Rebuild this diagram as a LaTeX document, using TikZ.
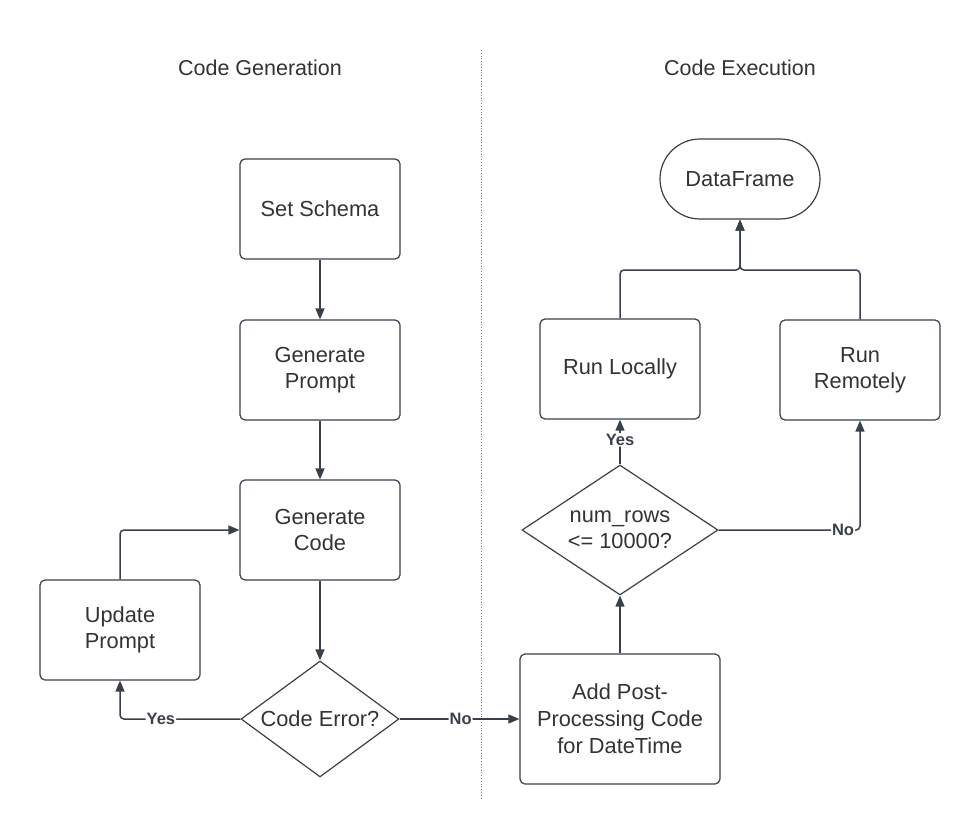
\documentclass[tikz,border=0pt]{standalone}
\usepackage{fontspec}
\setmainfont{Liberation Sans}
\usetikzlibrary{arrows.meta,shapes.geometric}
\definecolor{ln}{HTML}{3A4049}
\definecolor{tx}{HTML}{333333}
\begin{document}
\begin{tikzpicture}[x=1pt,y=-1pt,
 box/.style={draw=ln, line width=1.2pt, rounded corners=5pt, minimum width=160pt, minimum height=100pt, align=center, text=tx, font=\fontsize{21.8}{26}\selectfont, inner sep=0pt},
 dec/.style={diamond, draw=ln, line width=1.2pt, align=center, text=tx, font=\fontsize{21.8}{26}\selectfont, inner sep=0pt},
 title/.style={text=tx, font=\fontsize{21.5}{24}\selectfont},
 conn/.style={draw=ln, line width=1.5pt, -{Triangle[length=11pt,width=9pt]}, rounded corners=4pt},
 lbl/.style={fill=white, font=\bfseries\fontsize{16.5}{18}\selectfont, text=ln, inner sep=1pt}
]
\useasboundingbox (0,0) rectangle (980,840);
\fill[white] (0,0) rectangle (980,840);
\node[title] (t1) at (260,68) {Code Generation};
\node[title] (t2) at (740,68) {Code Execution};
\coordinate (d1) at (481,50);
\coordinate (d2) at (481,800);
\draw[dotted, line width=0.8pt, color=gray] (d1) -- (d2);

\node[box] (ss) at (320,209) {Set Schema};
\node[box] (gp) at (320,370) {Generate\\Prompt};
\node[box] (gc) at (320,530) {Generate\\Code};
\node[box] (up) at (120,630) {Update\\Prompt};
\node[dec, aspect=1.36, minimum width=158pt, minimum height=116pt] (ce) at (320,719) {Code Error?};
\node[box, minimum width=200pt, minimum height=130pt, font=\fontsize{21.8}{27}\selectfont] (ap) at (620,719) {Add Post-\\Processing Code\\for DateTime};
\node[dec, aspect=1.5, minimum width=196pt, minimum height=130pt] (nr) at (620,530) {num\_rows\\<= 10000?};
\node[box] (rl) at (620,369) {Run Locally};
\node[box] (rr) at (860,370) {Run\\Remotely};
\node[box, rounded corners=40pt, minimum height=80pt] (df) at (740,179) {DataFrame};

\coordinate (jn) at (740,270);
\draw[conn] (ss) -- (gp);
\draw[conn] (gp) -- (gc);
\draw[conn] (gc) -- (ce);
\draw[conn] (up.north) |- (gc.west);
\draw[conn] (ce.west) -| node[lbl, pos=0.33]{Yes} (up.south);
\draw[conn] (ce.east) -- node[lbl, pos=0.51]{No} (ap.west);
\draw[conn] (ap) -- (nr);
\draw[conn] (nr.north) -- node[lbl, pos=0.55]{Yes} (rl.south);
\draw[conn] (nr.east) -| node[lbl, pos=0.44]{No} (rr.south);
\draw[conn] (rl.north) |- (jn) -- (df.south);
\draw[conn] (rr.north) |- (jn) -- (df.south);
\end{tikzpicture}
\end{document}
